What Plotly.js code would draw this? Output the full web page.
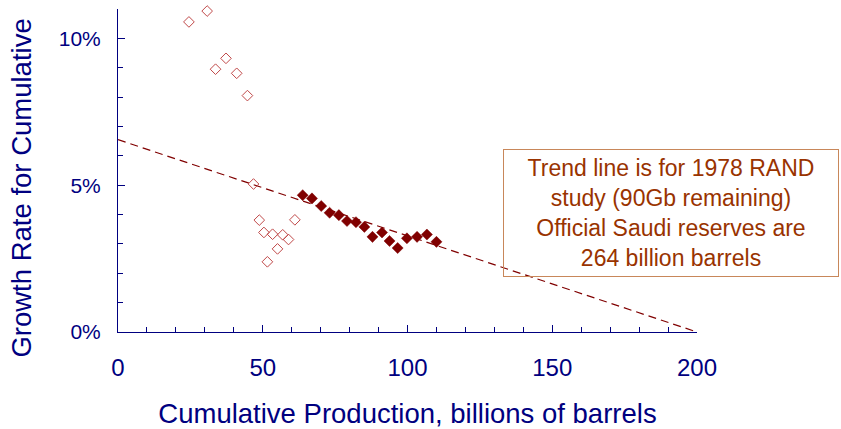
<!DOCTYPE html>
<html>
<head>
<meta charset="utf-8">
<script src="https://cdn.plot.ly/plotly-3.0.1.min.js"></script>
<style>html,body{margin:0;padding:0;background:#fff;}#chart{width:841px;height:429px;}</style>
</head>
<body>
<div id="chart"></div>
<script>
// Early years (hollow diamonds)
const earlyCumulative = [24.5, 30.8, 33.7, 37.3, 41.0, 44.7, 46.8, 48.8, 50.4, 51.6, 53.4, 55.1, 56.9, 58.9, 61.1];
const earlyGrowth     = [10.56, 10.93, 8.95, 9.32, 8.81, 8.05, 5.04, 3.81, 3.39, 2.39, 3.33, 2.83, 3.31, 3.15, 3.82];
// Later years (filled diamonds)
const lateCumulative = [63.8, 67.0, 70.2, 73.1, 76.3, 79.1, 82.2, 85.1, 87.9, 91.2, 93.8, 96.6, 99.8, 103.3, 106.7, 110.0];
const lateGrowth     = [4.66, 4.55, 4.29, 4.06, 3.98, 3.78, 3.74, 3.58, 3.24, 3.39, 3.10, 2.86, 3.19, 3.24, 3.32, 3.07];
// Trend line (1978 RAND study)
const trendCumulative = [0, 200];
const trendGrowth     = [6.55, 0];
// Ticks
const xTickVals = [0, 50, 100, 150, 200];
const xTickText = ['0', '50', '100', '150', '200'];
const yTickVals = [0, 5, 10];
const yTickText = ['0%', '5%', '10%'];
const xTitle = 'Cumulative Production, billions of barrels';
const yTitle = 'Growth Rate for Cumulative';
const noteLines = ['Trend line is for 1978 RAND', 'study (90Gb remaining)', 'Official Saudi reserves are', '264 billion barrels'];

const navy = '#000080';
const font = 'Arial, "Liberation Sans", sans-serif';

const traces = [
  {
    x: trendCumulative, y: trendGrowth, mode: 'lines', type: 'scatter',
    line: {color: '#800000', width: 1.2, dash: '8px,5px'}, hoverinfo: 'skip'
  },
  {
    x: earlyCumulative, y: earlyGrowth, mode: 'markers', type: 'scatter', cliponaxis: false,
    marker: {symbol: 'diamond-open', size: 8.2, color: '#c04848', line: {width: 1, color: '#c04848'}}
  },
  {
    x: lateCumulative, y: lateGrowth, mode: 'markers', type: 'scatter', cliponaxis: false,
    marker: {symbol: 'diamond', size: 8.5, color: '#800000', line: {width: 0.5, color: '#800000'}}
  }
];

const layout = {
  width: 841, height: 429,
  margin: {l: 118, r: 144, t: 9, b: 97},
  paper_bgcolor: '#ffffff', plot_bgcolor: '#ffffff',
  showlegend: false,
  font: {family: font, color: navy},
  xaxis: {
    range: [0, 200], showgrid: false, zeroline: false,
    showline: true, linecolor: navy, linewidth: 1,
    ticks: 'inside', ticklen: 7, tickcolor: navy, tickwidth: 1,
    tickvals: xTickVals, ticktext: xTickText,
    tickfont: {size: 24, color: navy, family: font},
    ticklabelstandoff: 14,
    minor: {dtick: 10, ticks: 'inside', ticklen: 5, tickcolor: navy, tickwidth: 1, showgrid: false},
    title: {text: xTitle, font: {size: 27.5, color: navy, family: font}, standoff: 23},
    automargin: false, fixedrange: true
  },
  yaxis: {
    range: [0, 11], showgrid: false, zeroline: false,
    showline: true, linecolor: navy, linewidth: 1,
    ticks: 'inside', ticklen: 7, tickcolor: navy, tickwidth: 1,
    tickvals: yTickVals, ticktext: yTickText,
    tickfont: {size: 21, color: navy, family: font},
    ticklabelstandoff: 12,
    minor: {dtick: 1, ticks: 'inside', ticklen: 5, tickcolor: navy, tickwidth: 1, showgrid: false},
    automargin: false, fixedrange: true
  },
  annotations: [
    {
      xref: 'paper', yref: 'paper', x: (22 - 118) / 579, y: 0.444,
      xanchor: 'center', yanchor: 'middle', textangle: -90,
      text: yTitle, showarrow: false,
      font: {size: 27.5, color: navy, family: font}
    },
    {
      xref: 'paper', yref: 'paper', x: 0.955, y: 0.369,
      xanchor: 'center', yanchor: 'middle',
      text: noteLines.join('<br>'), showarrow: false, align: 'center',
      font: {size: 23, color: '#993300', family: font},
      bordercolor: '#c8875a', borderwidth: 1, borderpad: 2,
      bgcolor: 'rgba(255,255,255,0)', width: 330, height: 122
    }
  ]
};

Plotly.newPlot('chart', traces, layout, {displayModeBar: false, staticPlot: true});
</script>
</body>
</html>
